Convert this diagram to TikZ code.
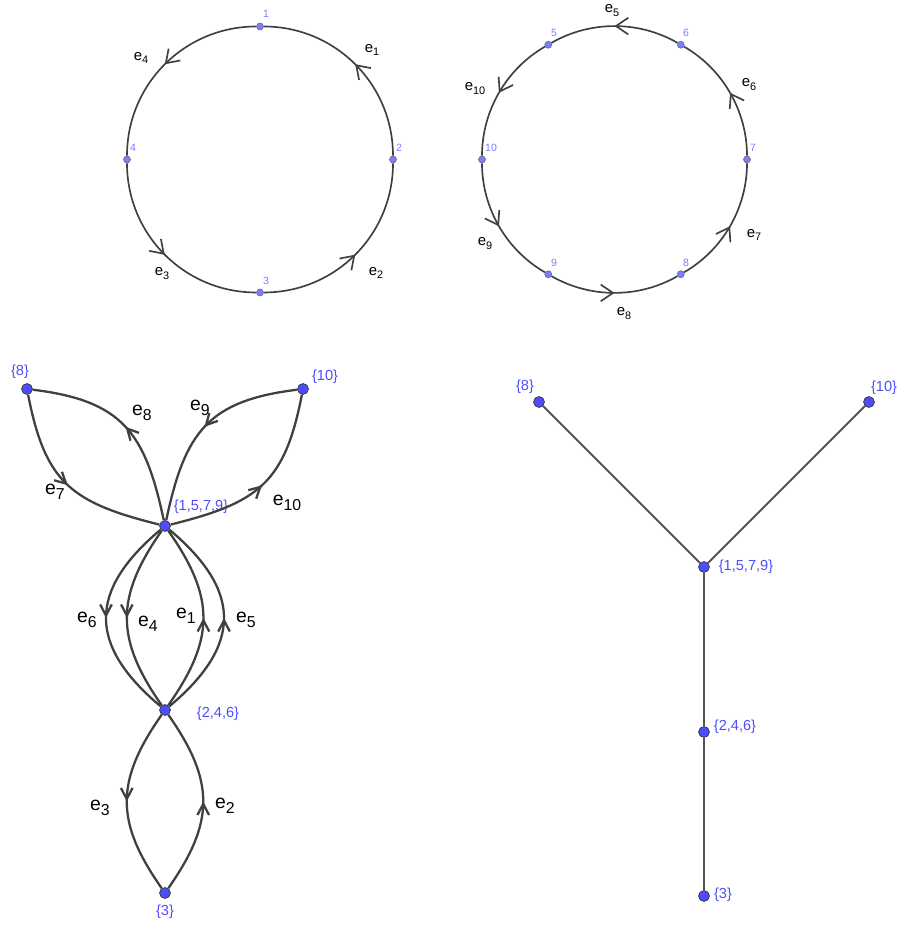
\documentclass[tikz,border=0pt]{standalone}
\usepackage{fontspec}
\setmainfont{Liberation Sans}
\usetikzlibrary{arrows.meta,decorations.markings}

\definecolor{ptlight}{RGB}{125,125,255}
\definecolor{ptdark}{RGB}{77,77,255}
\definecolor{edgegray}{RGB}{64,64,64}

% edge label e_n, optional size of the index
\newcommand{\elab}[2][6.2]{e\raisebox{-0.5ex}{\fontsize{#1}{#1}\selectfont #2}}

\tikzset{
  midarrow/.style={postaction={decorate,decoration={markings,
      mark=at position 0.5 with {\arrow{#1}}}}},
  smalldot/.style={circle,fill=ptlight,draw=edgegray!80,line width=0.3pt,inner sep=0pt,minimum size=4pt},
  bigdot/.style={circle,fill=ptdark,draw=black!80,line width=0.4pt,inner sep=0pt,minimum size=6.2pt},
  smallnum/.style={text=ptlight,font=\fontsize{6}{7}\selectfont,inner sep=0pt},
  setlab/.style={text=ptdark,font=\fontsize{8.3}{10}\selectfont,inner sep=0pt},
  elabsmall/.style={font=\fontsize{8.5}{10}\selectfont,inner sep=0pt},
  elabbig/.style={font=\fontsize{11}{13}\selectfont,inner sep=0pt},
  cycleedge/.style={draw=edgegray,line width=0.95pt,
      midarrow={Straight Barb[length=7pt,width=9.5pt]}},
  graphedge/.style={draw=edgegray,line width=1.3pt,
      midarrow={Straight Barb[length=6.3pt,width=6.6pt]}},
  treeedge/.style={draw=edgegray!90,line width=1.1pt}
}

\begin{document}
\begin{tikzpicture}[x=0.02cm,y=0.02cm]
\useasboundingbox (0,0) rectangle (896,929);

% first cycle
\node[smalldot] (p1) at (260,902.5) {};
\node[smalldot] (p2) at (393,769.5) {};
\node[smalldot] (p3) at (260,636.5) {};
\node[smalldot] (p4) at (127,769.5) {};
\node[smallnum] (n1) at (266,915) {1};
\node[smallnum] (n2) at (399,781) {2};
\node[smallnum] (n3) at (266,648) {3};
\node[smallnum] (n4) at (133,781) {4};

\draw[cycleedge] (p2) to[bend right=45] (p1);
\draw[cycleedge] (p1) to[bend right=45] (p4);
\draw[cycleedge] (p4) to[bend right=45] (p3);
\draw[cycleedge] (p3) to[bend right=45] (p2);

\node[elabsmall] (le1) at (372,879) {\elab{1}};
\node[elabsmall] (le4) at (141,871) {\elab{4}};
\node[elabsmall] (le3) at (162,655) {\elab{3}};
\node[elabsmall] (le2) at (376,656) {\elab{2}};

% second cycle
\node[smalldot] (q5) at (548.25,884.25) {};
\node[smalldot] (q6) at (680.75,884.25) {};
\node[smalldot] (q7) at (747,769.5) {};
\node[smalldot] (q8) at (680.75,654.75) {};
\node[smalldot] (q9) at (548.25,654.75) {};
\node[smalldot] (q10) at (482,769.5) {};
\node[smallnum] (n5) at (554,896) {5};
\node[smallnum] (n6) at (686,896) {6};
\node[smallnum] (n7) at (753,781) {7};
\node[smallnum] (n8) at (686,666) {8};
\node[smallnum] (n9) at (554,666) {9};
\node[smallnum] (n10) at (491,781) {10};

\draw[cycleedge] (q6) to[bend right=30,looseness=0.91] (q5);
\draw[cycleedge] (q7) to[bend right=30,looseness=0.91] (q6);
\draw[cycleedge] (q8) to[bend right=30,looseness=0.91] (q7);
\draw[cycleedge] (q9) to[bend right=30,looseness=0.91] (q8);
\draw[cycleedge] (q10) to[bend right=30,looseness=0.91] (q9);
\draw[cycleedge] (q5) to[bend right=30,looseness=0.91] (q10);

\node[elabsmall] (le5) at (612,918) {\elab{5}};
\node[elabsmall] (le6) at (749,844) {\elab{6}};
\node[elabsmall] (le7) at (754,694) {\elab{7}};
\node[elabsmall] (le8) at (624,615) {\elab{8}};
\node[elabsmall] (le9) at (485,685) {\elab{9}};
\node[elabsmall] (le10) at (475,840) {\elab{10}};

% quotient graph
\node[bigdot] (b8) at (27,540) {};
\node[bigdot] (b10) at (303,540) {};
\node[bigdot] (bhub) at (165,403) {};
\node[bigdot] (b246) at (165,219) {};
\node[bigdot] (b3) at (165,36) {};
\node[setlab] (s8) at (20,557) {\{8\}};
\node[setlab] (s10) at (325,552) {\{10\}};
\node[setlab] (shub) at (201,422) {\{1,5,7,9\}};
\node[setlab] (s246) at (218,215) {\{2,4,6\}};
\node[setlab] (s3) at (165,17) {\{3\}};

\draw[graphedge] (b8) to[out=-79,in=166,looseness=1.25] (bhub);
\draw[graphedge] (bhub) to[out=102,in=-7,looseness=1.25] (b8);
\draw[graphedge] (b10) to[out=187,in=78,looseness=1.25] (bhub);
\draw[graphedge] (bhub) to[out=14,in=-101,looseness=1.25] (b10);
\draw[graphedge] (bhub) to[out=220,in=140,looseness=1.38] (b246);
\draw[graphedge] (bhub) to[out=235,in=125,looseness=1.19] (b246);
\draw[graphedge] (b246) to[out=55,in=-55,looseness=1.2] (bhub);
\draw[graphedge] (b246) to[out=40,in=-40,looseness=1.38] (bhub);
\draw[graphedge] (b246) to[out=235,in=125,looseness=1.2] (b3);
\draw[graphedge] (b3) to[out=55,in=-55,looseness=1.2] (b246);

\node[elabbig] (ge8) at (142,516) {\elab[9]{8}};
\node[elabbig] (ge9) at (200,521) {\elab[9]{9}};
\node[elabbig] (ge7) at (55,437) {\elab[9]{7}};
\node[elabbig] (ge10) at (287,426) {\elab[9]{10}};
\node[elabbig] (ge6) at (87,309) {\elab[9]{6}};
\node[elabbig] (ge4) at (148,305) {\elab[9]{4}};
\node[elabbig] (ge1) at (186,313) {\elab[9]{1}};
\node[elabbig] (ge5) at (246,309) {\elab[9]{5}};
\node[elabbig] (ge3) at (100,121) {\elab[9]{3}};
\node[elabbig] (ge2) at (225,123) {\elab[9]{2}};

% tree
\node[bigdot] (r8) at (539,527) {};
\node[bigdot] (r10) at (869,527) {};
\node[bigdot] (rhub) at (704,362) {};
\node[bigdot] (r246) at (704,197) {};
\node[bigdot] (r3) at (704,33) {};
\node[setlab] (t8) at (525,542) {\{8\}};
\node[setlab] (t10) at (884,541) {\{10\}};
\node[setlab] (thub) at (746,362) {\{1,5,7,9\}};
\node[setlab] (t246) at (735,202) {\{2,4,6\}};
\node[setlab] (t3) at (723,34) {\{3\}};

\draw[treeedge] (r8) -- (rhub);
\draw[treeedge] (r10) -- (rhub);
\draw[treeedge] (rhub) -- (r246);
\draw[treeedge] (r246) -- (r3);
\end{tikzpicture}
\end{document}
